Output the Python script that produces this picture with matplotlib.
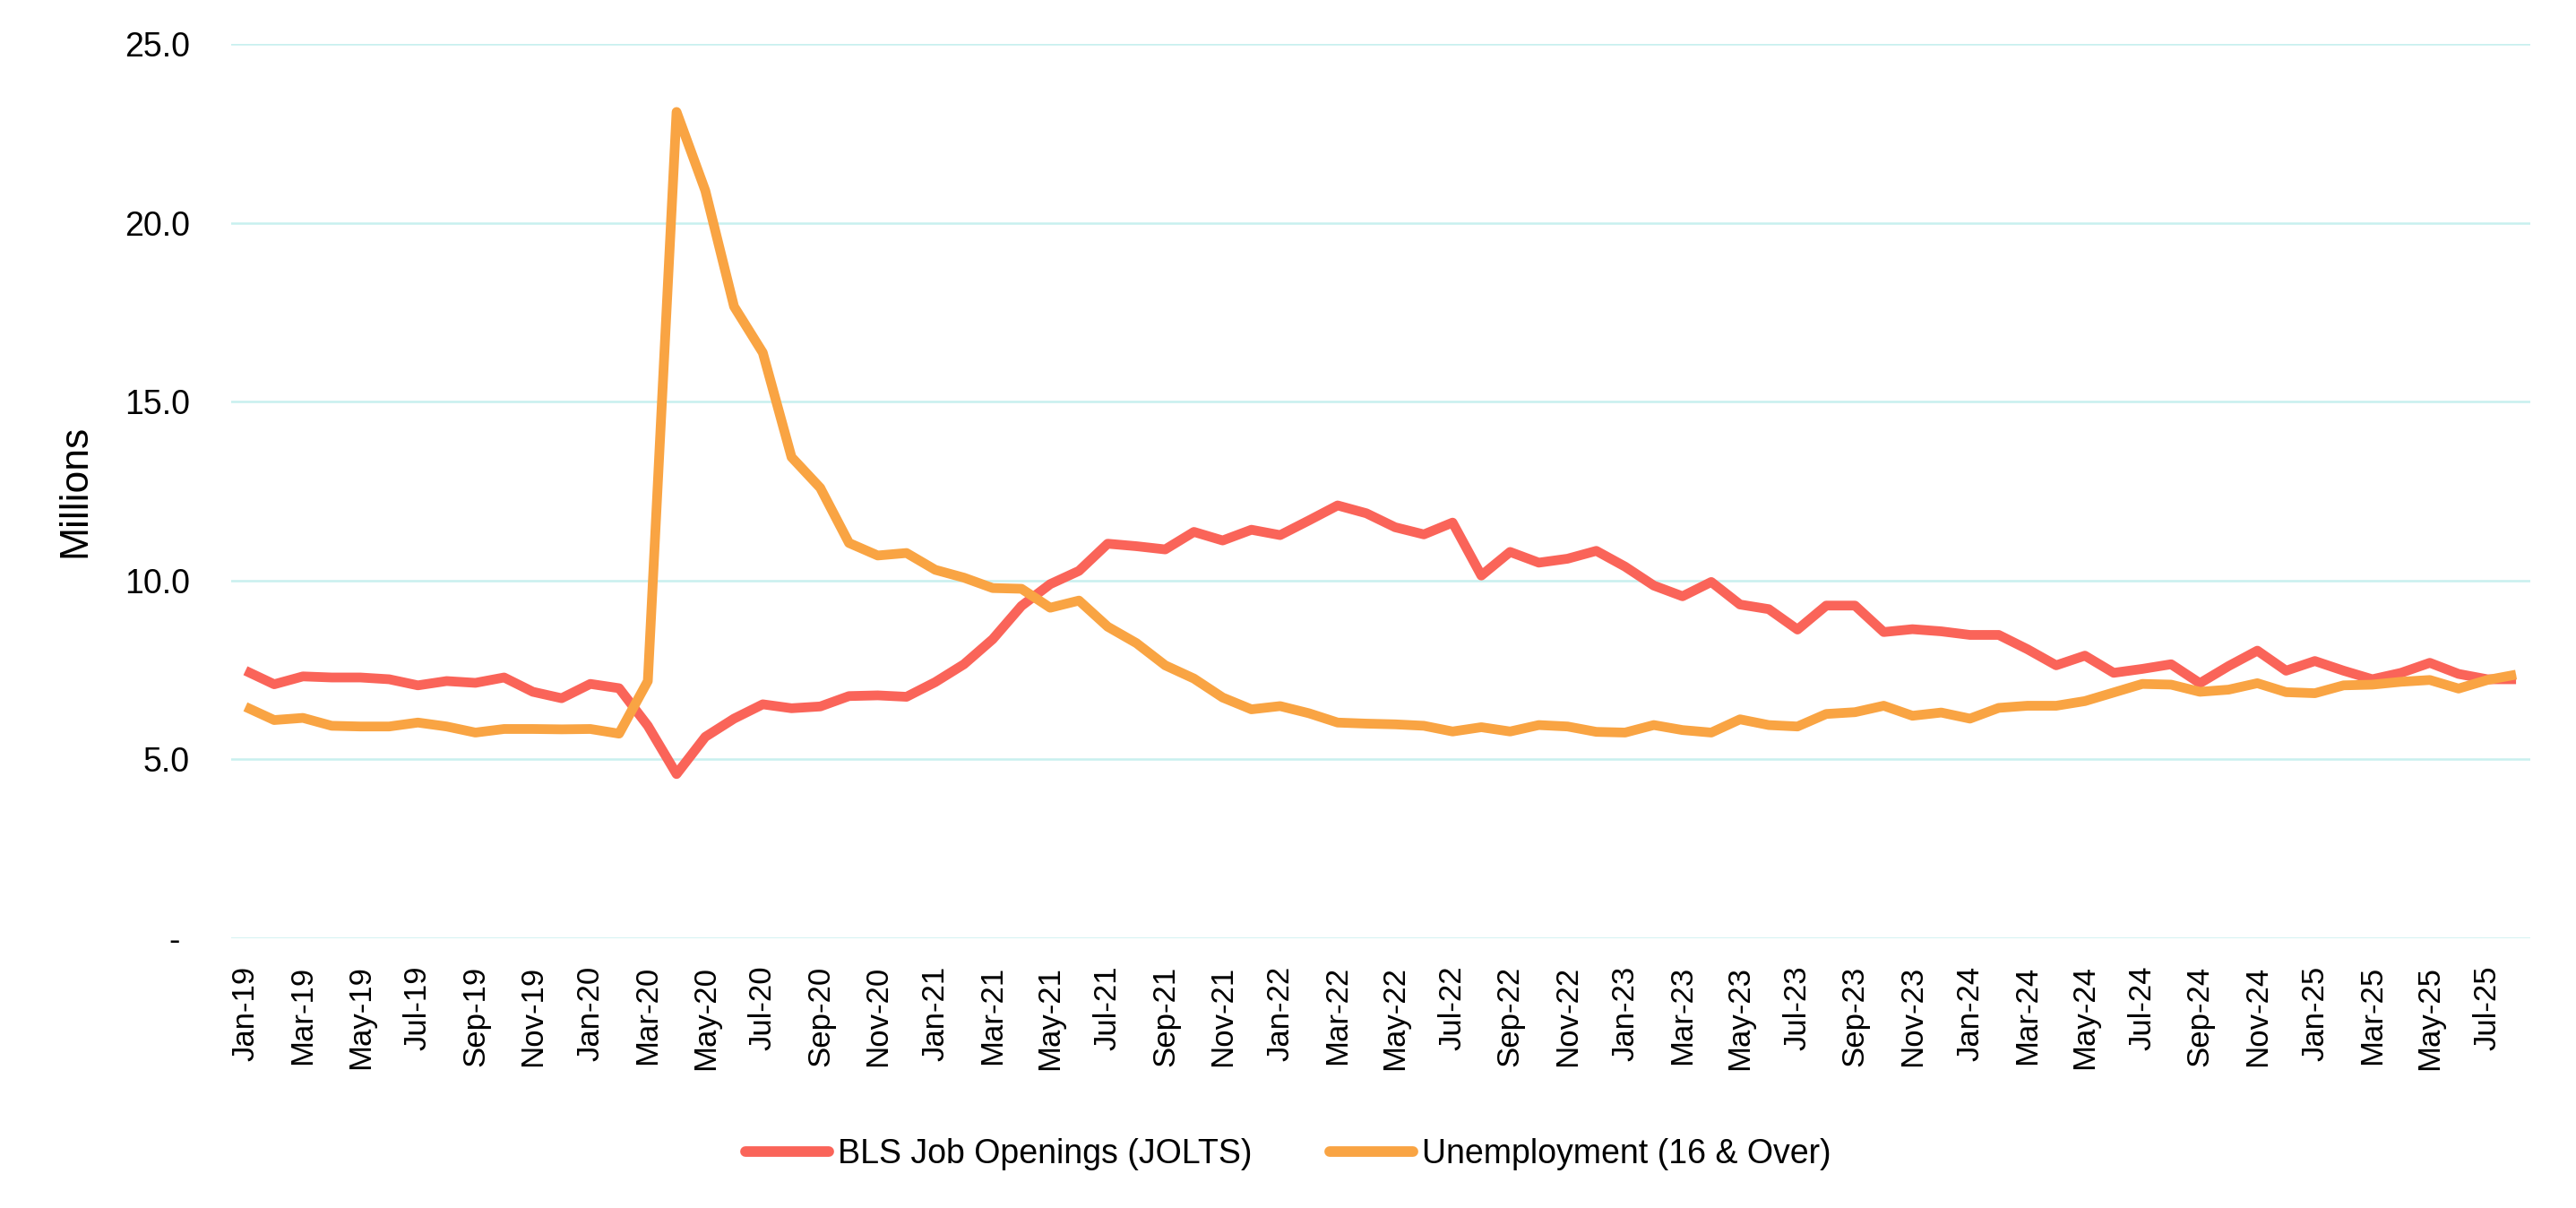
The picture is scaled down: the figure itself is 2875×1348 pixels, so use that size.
import matplotlib
matplotlib.use("Agg")
import matplotlib.pyplot as plt
import pandas as pd

months = list(pd.date_range("2019-01-01", "2025-08-01", freq="MS").strftime("%b-%y"))

job_openings = [
    7.48, 7.10, 7.32, 7.29, 7.29, 7.24, 7.07, 7.19, 7.14, 7.29, 6.89, 6.71,
    7.11, 6.99, 5.94, 4.59, 5.63, 6.14, 6.54, 6.43, 6.48, 6.77, 6.79, 6.75,
    7.16, 7.66, 8.36, 9.29, 9.90, 10.27, 11.03, 10.96, 10.87, 11.36, 11.12, 11.42,
    11.27, 11.68, 12.10, 11.88, 11.49, 11.29, 11.62, 10.14, 10.80, 10.50, 10.61, 10.83,
    10.39, 9.86, 9.56, 9.96, 9.33, 9.20, 8.63, 9.30, 9.30, 8.56, 8.64, 8.58,
    8.48, 8.48, 8.08, 7.63, 7.90, 7.42, 7.53, 7.66, 7.13, 7.61, 8.04, 7.48,
    7.75, 7.48, 7.24, 7.42, 7.70, 7.39, 7.24, 7.24,
]

unemployment = [
    6.47, 6.10, 6.16, 5.94, 5.92, 5.92, 6.03, 5.92, 5.75, 5.85, 5.85, 5.84,
    5.85, 5.72, 7.19, 23.10, 20.90, 17.66, 16.37, 13.45, 12.59, 11.05, 10.70, 10.77,
    10.30, 10.08, 9.79, 9.77, 9.24, 9.44, 8.71, 8.25, 7.63, 7.26, 6.73, 6.40,
    6.49, 6.29, 6.03, 6.00, 5.98, 5.94, 5.78, 5.90, 5.78, 5.96, 5.92, 5.77,
    5.75, 5.96, 5.82, 5.75, 6.12, 5.96, 5.92, 6.27, 6.32, 6.50, 6.22, 6.31,
    6.14, 6.44, 6.50, 6.50, 6.63, 6.87, 7.11, 7.09, 6.89, 6.95, 7.13, 6.88,
    6.85, 7.07, 7.09, 7.17, 7.22, 6.98, 7.22, 7.37,
]

y_ticks = [0, 5, 10, 15, 20, 25]
y_tick_labels = ["- ", "5.0", "10.0", "15.0", "20.0", "25.0"]

series_names = ["BLS Job Openings (JOLTS)", "Unemployment (16 & Over)"]
colors = ["#FA6459", "#F9A443"]

plt.rcParams["font.family"] = ["Liberation Sans", "DejaVu Sans"]

fig = plt.figure(figsize=(28.75, 13.48), dpi=100)
ax = fig.add_axes([0.0897, 0.2233, 0.8926, 0.7403])

x = list(range(len(months)))
ax.plot(x, job_openings, color=colors[0], lw=7.8, solid_joinstyle="round",
        solid_capstyle="butt", label=series_names[0], zorder=3)
ax.plot(x, unemployment, color=colors[1], lw=7.8, solid_joinstyle="round",
        solid_capstyle="butt", label=series_names[1], zorder=4)

ax.set_xlim(-0.5, len(months) - 0.5)
ax.set_ylim(0, 25)
ax.set_yticks(y_ticks)
ax.set_yticklabels(y_tick_labels)
ax.set_xticks(x[::2])
ax.set_xticklabels(months[::2], rotation=90)

ax.tick_params(axis="y", length=0, pad=33, labelsize=27, colors="#000000")
ax.tick_params(axis="x", length=0, pad=22, labelsize=25, colors="#000000")

for s in ax.spines.values():
    s.set_visible(False)
ax.grid(axis="y", color="#C8F0EF", lw=1.8, zorder=0)
ax.set_axisbelow(True)

ax.set_ylabel("Millions", fontsize=32)
ax.yaxis.set_label_coords(-0.060, 0.5)

handles, labels = ax.get_legend_handles_labels()
leg = fig.legend(handles, labels, loc="center", bbox_to_anchor=(0.5, 0.0445),
                 ncol=2, frameon=False, fontsize=27, handlelength=2.5,
                 handletextpad=0.25, columnspacing=2.3)
for line in leg.get_lines():
    line.set_linewidth(8.5)
    line.set_solid_capstyle("round")

fig.savefig("out.png", dpi=100, facecolor="white")
